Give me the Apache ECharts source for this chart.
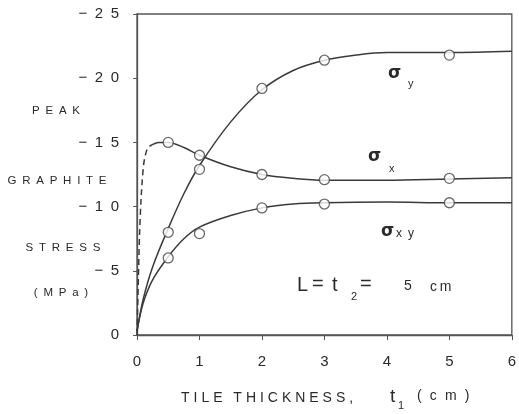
<!DOCTYPE html>
<html><head><meta charset="utf-8">
<script src="https://cdn.jsdelivr.net/npm/echarts@6/dist/echarts.min.js"></script>
<style>html,body{margin:0;padding:0;background:#fff;}#c{width:519px;height:414px;}</style>
</head><body><div id="c"></div>
<script>
// Measured points (circles), magnitude of stress in MPa (plotted upward as negative values)
var xPoints = [0.5, 1, 2, 3, 5];
var sigmaY = [8.0, 12.9, 19.2, 21.4, 21.8];
var sigmaX = [15.0, 14.0, 12.5, 12.1, 12.2];
var sigmaXY = [6.0, 7.9, 9.9, 10.2, 10.3];

// Curves read from the drawn fits
var curveYx = [0, 0.1, 0.25, 0.5, 0.75, 1, 1.5, 2, 2.5, 3, 3.5, 4, 5, 6];
var curveYv = [0.3, 2.8, 5.3, 8.3, 11.0, 13.2, 16.6, 19.1, 20.6, 21.4, 21.8, 22.0, 22.0, 22.1];
var curveXx = [0.2, 0.35, 0.5, 0.75, 1, 1.5, 2, 2.5, 3, 4, 5, 6];
var curveXv = [14.7, 15.0, 15.0, 14.6, 14.0, 13.1, 12.5, 12.2, 12.05, 12.05, 12.15, 12.25];
var dashXx = [0, 0.02, 0.05, 0.1, 0.15, 0.2];
var dashXv = [0, 4, 9, 13, 14.3, 14.7];
var curveXYx = [0, 0.1, 0.25, 0.5, 0.75, 1, 1.5, 2, 2.5, 3, 4, 5, 6];
var curveXYv = [0.3, 2.5, 4.3, 6.1, 7.5, 8.4, 9.3, 9.9, 10.2, 10.3, 10.35, 10.3, 10.3];

var yTicks = [0, 5, 10, 15, 20, 25];
var xTicks = [0, 1, 2, 3, 4, 5, 6];

function pairs(xs, vs) { return xs.map(function (x, i) { return [x, vs[i]]; }); }
function spaced(s, sep) { return s.split('').join(sep); }

var FONT = 'Liberation Sans, Arial, sans-serif';
var LINE = '#3a3a3a';
var TXT = '#2a2a2a';

var chart = echarts.init(document.getElementById('c'));
var circleStyle = { color: '#fff', borderColor: '#444', borderWidth: 1.3 };
function txt(x, y, s, font, align) {
  return { type: 'text', x: x, y: y, style: { text: s, font: font, fill: TXT, align: align || 'left', verticalAlign: 'middle' } };
}

chart.setOption({
  animation: false,
  backgroundColor: '#fff',
  grid: { left: 137, right: 4, top: 14, bottom: 79, show: true, borderColor: '#555', borderWidth: 1.3 },
  xAxis: {
    type: 'value', min: 0, max: 6, interval: 1,
    axisLine: { lineStyle: { color: '#555', width: 1.3 } },
    axisTick: { show: true, inside: false, length: 5, lineStyle: { color: '#555' } },
    splitLine: { show: false },
    axisLabel: { margin: 19, fontSize: 15, color: TXT, fontFamily: FONT,
      formatter: function (v) { return xTicks.indexOf(v) >= 0 ? String(v) : ''; } }
  },
  yAxis: {
    type: 'value', min: 0, max: 25, interval: 5,
    axisLine: { show: true, lineStyle: { color: '#555', width: 1.3 } },
    axisTick: { show: true, inside: false, length: 4, lineStyle: { color: '#555' } },
    splitLine: { show: false },
    axisLabel: { margin: 18, fontSize: 15, color: TXT, fontFamily: FONT,
      formatter: function (v) {
        if (yTicks.indexOf(v) < 0) return '';
        return v === 0 ? '0' : '\u2212\u2002' + spaced(String(v), '\u2002');
      } }
  },
  series: [
    { type: 'line', data: pairs(curveYx, curveYv), smooth: 0.35, symbol: 'none', lineStyle: { color: LINE, width: 1.5 }, z: 2 },
    { type: 'line', data: pairs(curveXx, curveXv), smooth: 0.35, symbol: 'none', lineStyle: { color: LINE, width: 1.5 }, z: 2 },
    { type: 'line', data: pairs(dashXx, dashXv), smooth: 0.35, symbol: 'none', lineStyle: { color: LINE, width: 1.5, type: [6, 4] }, z: 2 },
    { type: 'line', data: pairs(curveXYx, curveXYv), smooth: 0.35, symbol: 'none', lineStyle: { color: LINE, width: 1.5 }, z: 2 },
    { type: 'scatter', data: pairs(xPoints, sigmaY), symbol: 'circle', symbolSize: 10, itemStyle: circleStyle, z: 3 },
    { type: 'scatter', data: pairs(xPoints, sigmaX), symbol: 'circle', symbolSize: 10, itemStyle: circleStyle, z: 3 },
    { type: 'scatter', data: pairs(xPoints, sigmaXY), symbol: 'circle', symbolSize: 10, itemStyle: circleStyle, z: 3 }
  ],
  graphic: [
    // y-axis title lines
    txt(56, 111, spaced('PEAK', '\u2002'), '11.5px ' + FONT, 'center'),
    txt(57, 181, spaced('GRAPHITE', '\u2002'), '11.5px ' + FONT, 'center'),
    txt(63, 248, spaced('STRESS', '\u2002'), '11.5px ' + FONT, 'center'),
    txt(61, 293, spaced('(MPa)', '\u2002'), '11.5px ' + FONT, 'center'),
    // x-axis title
    txt(181, 398, spaced('TILE', '\u2009\u200a') + '\u2002 ' + spaced('THICKNESS,', '\u2009\u200a'), '14px ' + FONT),
    txt(390, 397, 't', '19px ' + FONT),
    txt(398, 406, '1', '11px ' + FONT),
    txt(417, 396, spaced('(cm)', '\u2002\u200a'), '14px ' + FONT),
    // series labels
    txt(388, 74, '\u03c3', 'bold 17px DejaVu Sans, sans-serif'),
    txt(408, 84, 'y', '11px ' + FONT),
    txt(368, 157, '\u03c3', 'bold 17px DejaVu Sans, sans-serif'),
    txt(389, 169, 'x', '11px ' + FONT),
    txt(381, 232, '\u03c3', 'bold 17px DejaVu Sans, sans-serif'),
    txt(396, 234, 'x\u2002y', '12px ' + FONT),
    // parameter annotation
    txt(297, 285, 'L', '20px ' + FONT),
    txt(312, 284, '=', '20px ' + FONT),
    txt(332, 285, 't', '20px ' + FONT),
    txt(351, 297, '2', '11px ' + FONT),
    txt(360, 284, '=', '20px ' + FONT),
    txt(404, 286, '5', '14px ' + FONT),
    txt(430, 287, 'c\u2009m', '14px ' + FONT)
  ]
});
</script></body></html>
